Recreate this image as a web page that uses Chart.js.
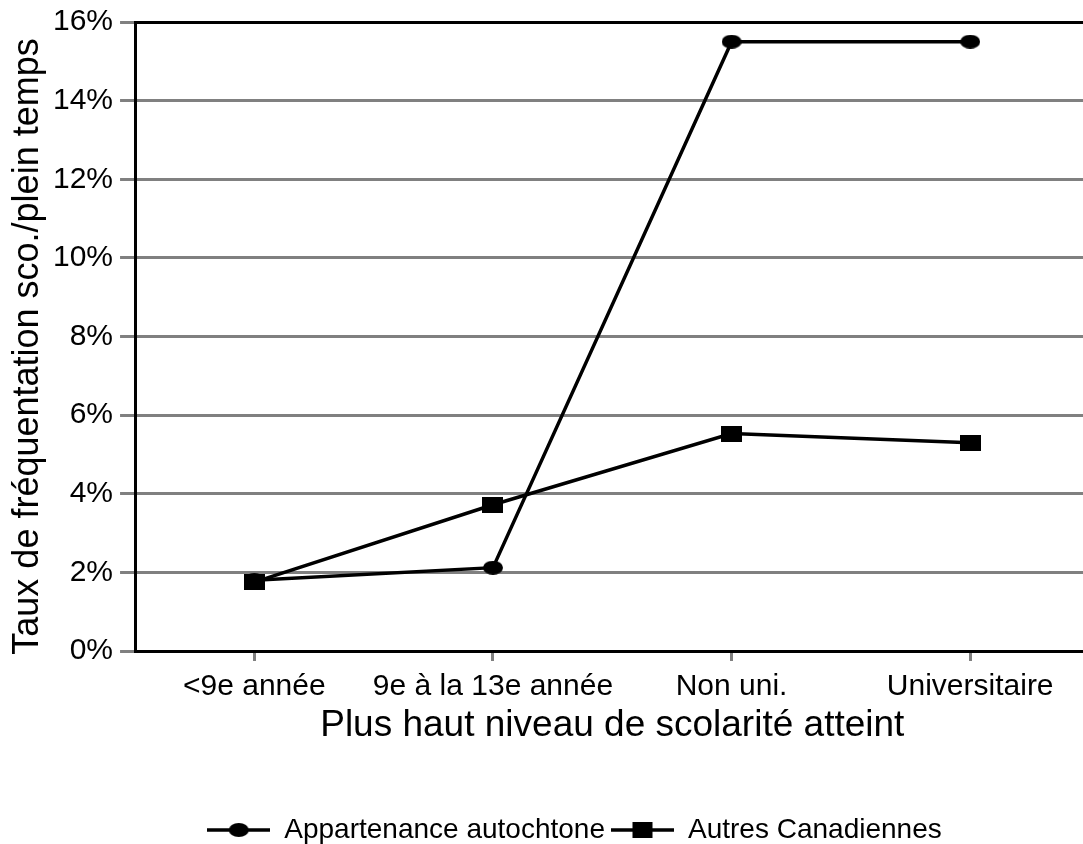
<!DOCTYPE html>
<html><head><meta charset="utf-8">
<script src="https://cdn.jsdelivr.net/npm/chart.js@4"></script>
<style>html,body{margin:0;padding:0;background:#fff;overflow:hidden}#wrap{width:1083px;height:844px;overflow:hidden}</style>
</head><body><div id="wrap"><canvas id="c" width="1097" height="844"></canvas></div>
<script>
const categories = ["<9e année", "9e à la 13e année", "Non uni.", "Universitaire"];
const autochtone = [1.8, 2.12, 15.5, 15.5];
const autres = [1.75, 3.72, 5.53, 5.3];
const seriesNames = ["Appartenance autochtone", "Autres Canadiennes"];
const yTicks = [0, 2, 4, 6, 8, 10, 12, 14, 16];

function marker(kind, w, h, lineLen) {
  const c = document.createElement('canvas');
  const W = lineLen || w;
  c.width = W; c.height = h;
  const x = c.getContext('2d');
  x.fillStyle = '#000';
  if (lineLen) { x.fillRect(0, h/2 - 1.75, W, 3.5); }
  const cx = W/2, cy = h/2;
  if (kind === 'ellipse') { x.beginPath(); x.ellipse(cx, cy, w/2, h/2, 0, 0, Math.PI*2); x.fill(); }
  else { x.fillRect(cx - w/2, cy - h/2, w, h); }
  return c;
}
const ptEllipse = marker('ellipse', 20, 14);
const ptRect = marker('rect', 21, 16);
const lgEllipse = marker('ellipse', 20, 14, 63);
const lgRect = marker('rect', 20, 16, 63);

const shiftLegend = {
  id: 'shiftLegend',
  afterLayout(chart) {
    const l = chart.legend; if (!l) return;
    l.left += 26; l.right += 26; l.top += 10; l.bottom += 10;
  }
};

new Chart(document.getElementById('c'), {
  type: 'line',
  data: {
    labels: categories,
    datasets: [
      { label: seriesNames[0], data: autochtone, borderColor: '#000', backgroundColor: '#000', borderWidth: 3.5, pointStyle: ptEllipse, tension: 0 },
      { label: seriesNames[1], data: autres, borderColor: '#000', backgroundColor: '#000', borderWidth: 3.5, pointStyle: ptRect, tension: 0 }
    ]
  },
  plugins: [shiftLegend],
  options: {
    responsive: false, animation: false, devicePixelRatio: 1,
    layout: { padding: { left: 0, right: 0, top: 4, bottom: 0 } },
    plugins: {
      tooltip: { enabled: false },
      legend: {
        position: 'bottom',
        labels: {
          usePointStyle: true, pointStyleWidth: 63, color: '#000', padding: 6,
          font: { family: 'Liberation Sans', size: 28 },
          generateLabels: (chart) => seriesNames.map((n, i) => ({
            text: n, pointStyle: i === 0 ? lgEllipse : lgRect, datasetIndex: i,
            fillStyle: '#000', strokeStyle: '#000', lineWidth: 0, fontColor: '#000'
          }))
        }
      }
    },
    scales: {
      x: {
        offset: true,
        border: { color: '#000', width: 3 },
        grid: { offset: false, drawOnChartArea: false, tickLength: 10, color: '#808080', tickColor: '#808080', lineWidth: 3 },
        ticks: { color: '#000', font: { family: 'Liberation Sans', size: 30, lineHeight: 0.5 }, padding: 18, maxRotation: 0, autoSkip: false },
        title: { display: true, text: 'Plus haut niveau de scolarité atteint', color: '#000', font: { family: 'Liberation Sans', size: 37, lineHeight: 1 }, padding: { top: -5, bottom: 56 } }
      },
      y: {
        min: 0, max: 16,
        afterBuildTicks: (s) => { s.ticks = yTicks.map(v => ({ value: v })); },
        border: { color: '#000', width: 3 },
        grid: { tickLength: 15, lineWidth: 3, tickColor: '#808080',
          color: (c) => (c.tick && c.tick.value === 16) ? '#000' : '#808080' },
        ticks: { color: '#000', font: { family: 'Liberation Sans', size: 30, lineHeight: 1 }, padding: 7, callback: (v) => v + '%' },
        title: { display: true, text: 'Taux de fréquentation sco./plein temps\u00A0\u00A0', color: '#000', font: { family: 'Liberation Sans', size: 36, lineHeight: 1 }, padding: { top: 10, bottom: 0 } }
      }
    }
  }
});
</script></body></html>
